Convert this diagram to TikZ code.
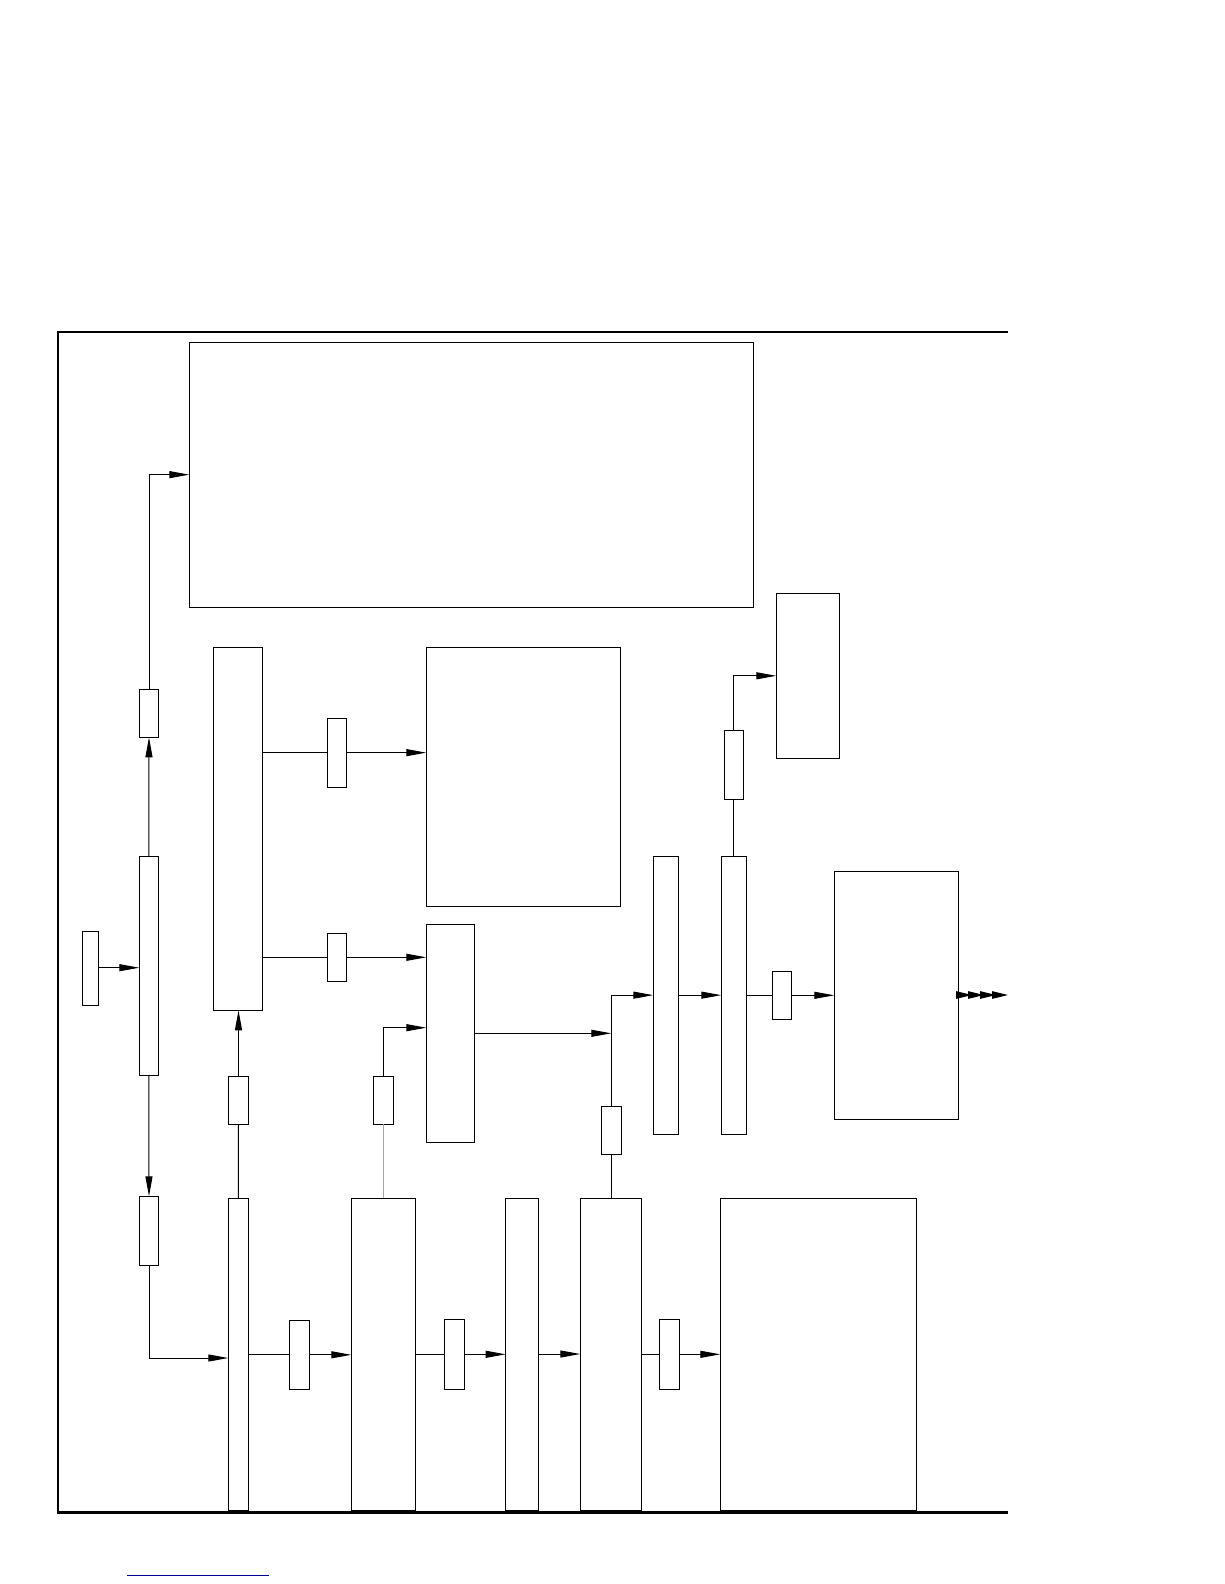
\documentclass[tikz,border=0pt]{standalone}
\usetikzlibrary{arrows.meta,calc}
\definecolor{linkblue}{RGB}{0,0,150}
\tikzset{
  blk/.style={draw, line width=1pt, inner sep=0pt, outer sep=0pt},
  wire/.style={line width=1pt},
  arr/.style={wire, -{Triangle[length=20pt,width=7pt]}},
  mtip/.style={},
  multiarr/.style={wire, -{Triangle[length=16pt,width=7.5pt,sep=-4pt]Triangle[length=16pt,width=7.5pt,sep=-4pt]Triangle[length=16pt,width=7.5pt,sep=-4pt]Triangle[length=16pt,width=7.5pt]}},
  frameline/.style={line width=2.2pt},
  greywire/.style={line width=1pt, draw=black!35},
}
\newcommand\mybox[5]{\node[blk, minimum width={(#4)-(#2)}, minimum height={(#5)-(#3)}] (#1) at ({((#2)+(#4))/2},{((#3)+(#5))/2}) {};}
\begin{document}
\begin{tikzpicture}[x=1pt,y=-1pt]
\useasboundingbox (0,0) rectangle (1224,1584);
% frame
\draw[frameline] (1008,332) -- (58,332) -- (58,1512.5) -- (1008,1512.5);
% boxes
\mybox{T}{189.3}{342.3}{753.3}{607}
\mybox{X}{82.3}{931.3}{98.7}{1005.3}
\mybox{B}{139.3}{856.3}{158.3}{1075.3}
\mybox{A2}{139.3}{689.3}{158.7}{737.3}
\mybox{A3}{139.3}{1196.3}{158.7}{1265.3}
\mybox{C}{213.3}{647.3}{262.3}{1010.3}
\mybox{C1}{327.3}{718.3}{346.3}{787}
\mybox{C2}{327.3}{933.3}{346.3}{981.3}
\mybox{D}{426.3}{647.3}{620.3}{906}
\mybox{E}{426.3}{924.3}{474.7}{1142.3}
\mybox{S1}{228.3}{1076.3}{248.7}{1124.3}
\mybox{S2}{373.3}{1076.3}{393.3}{1124.3}
\mybox{S3}{601.3}{1106.3}{621.3}{1154.3}
\mybox{F}{653.3}{856}{678.3}{1134.3}
\mybox{G}{721.3}{856}{746.3}{1134.3}
\mybox{S4}{724.3}{730.3}{743.3}{799.3}
\mybox{N}{776.3}{593.3}{839.3}{758.3}
\mybox{S5}{772.3}{971.3}{791.3}{1019.3}
\mybox{H}{834.3}{871.3}{958.3}{1119}
\mybox{I}{228.3}{1198.3}{248.3}{1510.3}
\mybox{J}{351.3}{1198.3}{415.3}{1510.3}
\mybox{K}{505.7}{1198.3}{538.3}{1510.3}
\mybox{L}{580.3}{1198.3}{641.3}{1510.3}
\mybox{M}{720.3}{1198.3}{916.3}{1510.3}
\mybox{R1}{289.3}{1320.3}{309.3}{1389.3}
\mybox{R2}{444.3}{1319.3}{464.3}{1389.3}
\mybox{R3}{659.3}{1319.3}{679.3}{1389.3}
\coordinate (outend) at (1008,995);
% connectors, left column
\draw[arr] (X.east |- 0,967.7) -- (B.west |- 0,967.7);
\draw[arr] (B.north) -- (A2.south);
\draw[arr] (A2.north) |- (T.west);
\draw[arr] (B.south) -- (A3.north);
\draw[arr] (A3.south) |- ([yshift=-3.7pt]I.west);
% column C
\draw[wire] (I.north) -- (S1.south);
\draw[arr] (S1.north) -- (S1.north |- C.south);
\draw[wire] (C.east |- C1.west) -- (C1.west);
\draw[arr] (C1.east) -- (C1.east -| D.west);
\draw[wire] (C.east |- C2.west) -- (C2.west);
\draw[arr] (C2.east) -- (C2.east -| E.west);
% column E
\draw[greywire] (S2.south) -- (S2.south |- J.north);
\draw[arr] (S2.north) |- ([yshift=5.6pt]E.west);
\draw[arr] (E.east) -- (E.east -| S3.north);
\draw[arr] (S3.north) |- (F.west);
\draw[wire] (S3.south) -- (S3.south |- L.north);
% right part
\draw[arr] (F.east) -- (F.east -| G.west);
\draw[wire] (G.north) -- (G.north |- S4.south);
\draw[arr] (S4.north) |- (N.west);
\draw[wire] (G.east |- S5.west) -- (S5.west);
\draw[arr] (S5.east) -- (S5.east -| H.west);
\draw[multiarr] (H.east |- outend) -- (outend);
% bottom row
\draw[wire] (I.east |- R1.west) -- (R1.west);
\draw[arr] (R1.east) -- (R1.east -| J.west);
\draw[wire] (J.east |- R2.west) -- (R2.west);
\draw[arr] (R2.east) -- (R2.east -| K.west);
\draw[arr] (K.east |- 0,1354) -- (L.west |- 0,1354);
\draw[wire] (L.east |- R3.west) -- (R3.west);
\draw[arr] (R3.east) -- (R3.east -| M.west);
% blue rule
\draw[linkblue, line width=1pt] (127.3,1575) -- (268.7,1575);
\end{tikzpicture}
\end{document}
